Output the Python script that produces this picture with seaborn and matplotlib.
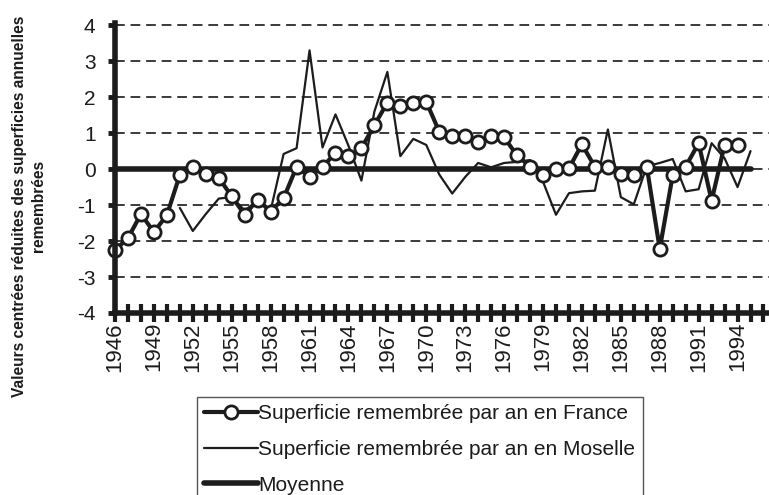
import matplotlib
matplotlib.use("Agg")
import matplotlib.pyplot as plt
import seaborn as sns

# centred-reduced yearly consolidated area ("remembrement")
france_years = list(range(1946, 1995))
france_values = [-2.25, -1.92, -1.25, -1.75, -1.28, -0.16, 0.05, -0.15, -0.24, -0.76,
                 -1.27, -0.85, -1.18, -0.81, 0.06, -0.21, 0.06, 0.45, 0.35, 0.58,
                 1.22, 1.85, 1.74, 1.83, 1.87, 1.04, 0.91, 0.91, 0.76, 0.91,
                 0.88, 0.38, 0.07, -0.16, 0.0, 0.02, 0.69, 0.06, 0.06, -0.14,
                 -0.16, 0.07, -2.22, -0.17, 0.07, 0.72, -0.88, 0.67, 0.67]

moselle_years = list(range(1951, 1996))
moselle_values = [-1.08, -1.72, -1.25, -0.82, -0.78, -1.15, -0.88, -1.15, 0.42, 0.58,
                  3.3, 0.6, 1.52, 0.65, -0.32, 1.6, 2.7, 0.36, 0.84, 0.67,
                  -0.15, -0.68, -0.22, 0.17, 0.05, 0.17, 0.2, 0.25, -0.35, -1.27,
                  -0.67, -0.62, -0.6, 1.1, -0.78, -0.98, 0.08, 0.17, 0.28, -0.62,
                  -0.56, 0.72, 0.3, -0.5, 0.5]

mean_years = list(range(1946, 1996))
mean_values = [0.0] * len(mean_years)

tick_years = list(range(1946, 1995, 3))
y_ticks = list(range(-4, 5))

label_france = "Superficie remembrée par an en France"
label_moselle = "Superficie remembrée par an en Moselle"
label_mean = "Moyenne"
y_title = "Valeurs centrées réduites des superficies annuelles\nremembrées"

sns.set_theme(style="white")
plt.rcParams["font.family"] = ["Liberation Sans", "DejaVu Sans"]

ink = "#1c1c1c"
fig = plt.figure(figsize=(7.69, 4.95), dpi=100)
ax = fig.add_axes([115 / 769, 1 - 313 / 495, 1 - 115 / 769, 290 / 495])

sns.lineplot(x=mean_years, y=mean_values, ax=ax, color=ink, linewidth=4,
             label=label_mean, zorder=3, clip_on=False)
sns.lineplot(x=moselle_years, y=moselle_values, ax=ax, color=ink, linewidth=1.6,
             label=label_moselle, zorder=4, clip_on=False)
sns.lineplot(x=france_years, y=france_values, ax=ax, color=ink, linewidth=3,
             marker="o", markersize=9.5, markerfacecolor="white",
             markeredgecolor=ink, markeredgewidth=2, label=label_france,
             zorder=5, clip_on=False)

ax.set_xlim(1946, 1946 + 654 / 12.97)
ax.set_ylim(-4, 4.06)
ax.set_yticks(y_ticks)
ax.set_yticklabels([str(v) for v in y_ticks])
all_years = list(range(1946, 1997))
ax.set_xticks(all_years)
ax.set_xticklabels([str(y) if y in tick_years else "" for y in all_years], rotation=90)
ax.set_xlabel("")
ax.set_ylabel("")

ax.grid(axis="y", color="#3a3a3a", linestyle=(0, (5, 3)), linewidth=1.4)
ax.grid(axis="x", visible=False)
for side in ["top", "right"]:
    ax.spines[side].set_visible(False)
for side in ["left", "bottom"]:
    ax.spines[side].set_linewidth(4)
    ax.spines[side].set_color(ink)
    ax.spines[side].set_zorder(6)

ax.tick_params(axis="y", direction="out", length=5, width=3.5, color=ink,
               pad=9, labelsize=15, labelcolor=ink, left=True)
ax.tick_params(axis="x", direction="inout", length=13, width=3, color=ink,
               pad=0, labelsize=16, labelcolor=ink, bottom=True)

fig.text(29 / 769, 1 - 206 / 495, y_title, rotation=90, ha="center", va="center",
         multialignment="center", fontsize=11.2, fontweight="bold", color=ink,
         linespacing=1.35)

handles, labels = ax.get_legend_handles_labels()
order = [labels.index(label_france), labels.index(label_moselle), labels.index(label_mean)]
leg = ax.legend([handles[i] for i in order], [labels[i] for i in order],
                loc="upper left", bbox_to_anchor=(197 / 769, 1 - 397 / 495),
                bbox_transform=fig.transFigure, frameon=True, fancybox=False,
                edgecolor="#555555", framealpha=1, fontsize=15,
                handlelength=2.6, handletextpad=0.0, borderpad=0.35,
                labelspacing=0.8, borderaxespad=0)
leg.get_frame().set_linewidth(1)
for t in leg.get_texts():
    t.set_color(ink)

fig.savefig("out.png", dpi=100)
